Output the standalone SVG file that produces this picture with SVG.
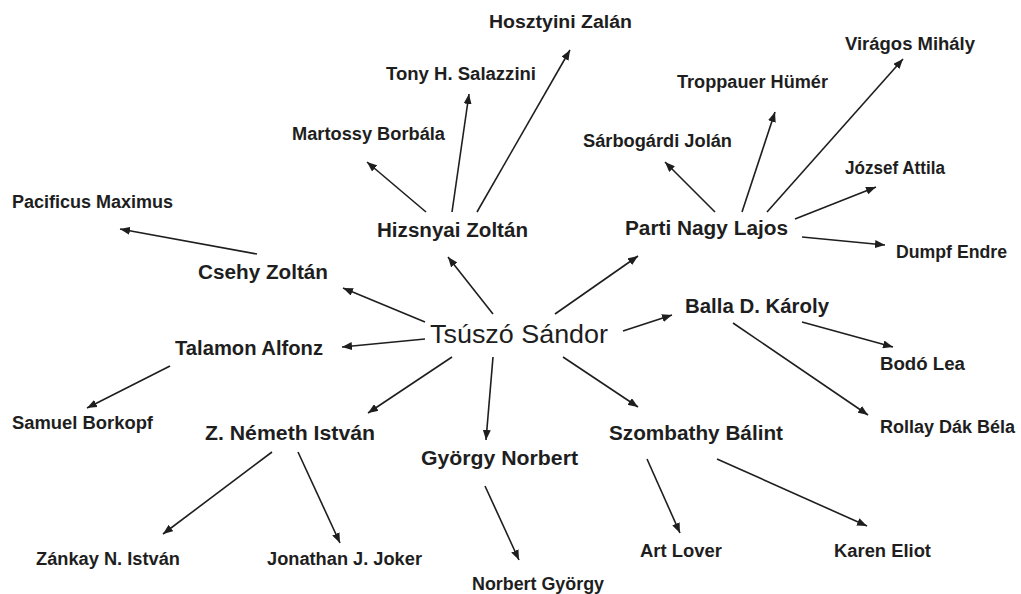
<svg xmlns="http://www.w3.org/2000/svg" width="1021" height="594" viewBox="0 0 1021 594">
<style>
text{font-family:"Liberation Sans",Arial,sans-serif;fill:#1e1e1e}
.c{font-size:26px;font-weight:normal}
.m{font-size:20px;font-weight:bold}
.l{font-size:18px;font-weight:bold}
#edges line{stroke:#1e1e1e;stroke-width:1.6;marker-end:url(#ah)}
</style>
<defs>
<marker id="ah" markerUnits="userSpaceOnUse" markerWidth="11" markerHeight="8" refX="10" refY="4" orient="auto">
<path d="M0,0 L10,4 L0,8 z" fill="#1e1e1e"/>
</marker>
</defs>
<rect width="1021" height="594" fill="#fff"/>
<g id="edges">
<line x1="493" y1="314" x2="448" y2="257"/>
<line x1="555" y1="314" x2="638" y2="256"/>
<line x1="425" y1="322" x2="343" y2="288"/>
<line x1="425" y1="339" x2="342" y2="347"/>
<line x1="623" y1="331" x2="672" y2="315"/>
<line x1="452" y1="357" x2="368" y2="413"/>
<line x1="493" y1="357" x2="486" y2="440"/>
<line x1="563" y1="357" x2="638" y2="407"/>
<line x1="426" y1="212" x2="367" y2="162"/>
<line x1="452" y1="212" x2="469" y2="94"/>
<line x1="477" y1="212" x2="570" y2="50"/>
<line x1="715" y1="212" x2="665" y2="162"/>
<line x1="742" y1="212" x2="775" y2="112"/>
<line x1="767" y1="212" x2="903" y2="59"/>
<line x1="795" y1="219" x2="876" y2="187"/>
<line x1="802" y1="237" x2="885" y2="245"/>
<line x1="257" y1="254" x2="120" y2="229"/>
<line x1="170" y1="366" x2="87" y2="408"/>
<line x1="802" y1="322" x2="893" y2="347"/>
<line x1="733" y1="323" x2="868" y2="415"/>
<line x1="272" y1="452" x2="163" y2="534"/>
<line x1="298" y1="452" x2="340" y2="543"/>
<line x1="485" y1="486" x2="519" y2="560"/>
<line x1="647" y1="459" x2="680" y2="533"/>
<line x1="717" y1="459" x2="867" y2="526"/>
</g>
<g id="n-center"><text class="c" x="430" y="343" textLength="178" lengthAdjust="spacingAndGlyphs">Tsúszó Sándor</text></g>
<g id="n-hizsnyai"><text class="m" x="377" y="237" textLength="151" lengthAdjust="spacingAndGlyphs">Hizsnyai Zoltán</text></g>
<g id="n-parti"><text class="m" x="625" y="235" textLength="163" lengthAdjust="spacingAndGlyphs">Parti Nagy Lajos</text></g>
<g id="n-csehy"><text class="m" x="198" y="279" textLength="130" lengthAdjust="spacingAndGlyphs">Csehy Zoltán</text></g>
<g id="n-balla"><text class="m" x="685" y="313" textLength="144" lengthAdjust="spacingAndGlyphs">Balla D. Károly</text></g>
<g id="n-talamon"><text class="m" x="175" y="355" textLength="148" lengthAdjust="spacingAndGlyphs">Talamon Alfonz</text></g>
<g id="n-nemeth"><text class="m" x="205" y="440" textLength="170" lengthAdjust="spacingAndGlyphs">Z. Németh István</text></g>
<g id="n-szombathy"><text class="m" x="609" y="440" textLength="174" lengthAdjust="spacingAndGlyphs">Szombathy Bálint</text></g>
<g id="n-gyorgy"><text class="m" x="421" y="465" textLength="157" lengthAdjust="spacingAndGlyphs">György Norbert</text></g>
<g id="n-hosztyini"><text class="l" x="489" y="28" textLength="143" lengthAdjust="spacingAndGlyphs">Hosztyini Zalán</text></g>
<g id="n-viragos"><text class="l" x="845" y="50" textLength="130" lengthAdjust="spacingAndGlyphs">Virágos Mihály</text></g>
<g id="n-tony"><text class="l" x="386" y="80" textLength="150" lengthAdjust="spacingAndGlyphs">Tony H. Salazzini</text></g>
<g id="n-troppauer"><text class="l" x="677" y="88" textLength="151" lengthAdjust="spacingAndGlyphs">Troppauer Hümér</text></g>
<g id="n-martossy"><text class="l" x="292" y="140" textLength="153" lengthAdjust="spacingAndGlyphs">Martossy Borbála</text></g>
<g id="n-sarbogardi"><text class="l" x="583" y="147" textLength="149" lengthAdjust="spacingAndGlyphs">Sárbogárdi Jolán</text></g>
<g id="n-jozsef"><text class="l" x="845" y="174" textLength="100" lengthAdjust="spacingAndGlyphs">József Attila</text></g>
<g id="n-pacificus"><text class="l" x="12" y="208" textLength="161" lengthAdjust="spacingAndGlyphs">Pacificus Maximus</text></g>
<g id="n-dumpf"><text class="l" x="896" y="258" textLength="111" lengthAdjust="spacingAndGlyphs">Dumpf Endre</text></g>
<g id="n-bodo"><text class="l" x="880" y="370" textLength="85" lengthAdjust="spacingAndGlyphs">Bodó Lea</text></g>
<g id="n-samuel"><text class="l" x="12" y="429" textLength="141" lengthAdjust="spacingAndGlyphs">Samuel Borkopf</text></g>
<g id="n-rollay"><text class="l" x="880" y="433" textLength="135" lengthAdjust="spacingAndGlyphs">Rollay Dák Béla</text></g>
<g id="n-zankay"><text class="l" x="36" y="565" textLength="144" lengthAdjust="spacingAndGlyphs">Zánkay N. István</text></g>
<g id="n-jonathan"><text class="l" x="267" y="565" textLength="155" lengthAdjust="spacingAndGlyphs">Jonathan J. Joker</text></g>
<g id="n-artlover"><text class="l" x="640" y="557" textLength="82" lengthAdjust="spacingAndGlyphs">Art Lover</text></g>
<g id="n-karen"><text class="l" x="834" y="557" textLength="97" lengthAdjust="spacingAndGlyphs">Karen Eliot</text></g>
<g id="n-norbert"><text class="l" x="472" y="590" textLength="132" lengthAdjust="spacingAndGlyphs">Norbert György</text></g>
</svg>
